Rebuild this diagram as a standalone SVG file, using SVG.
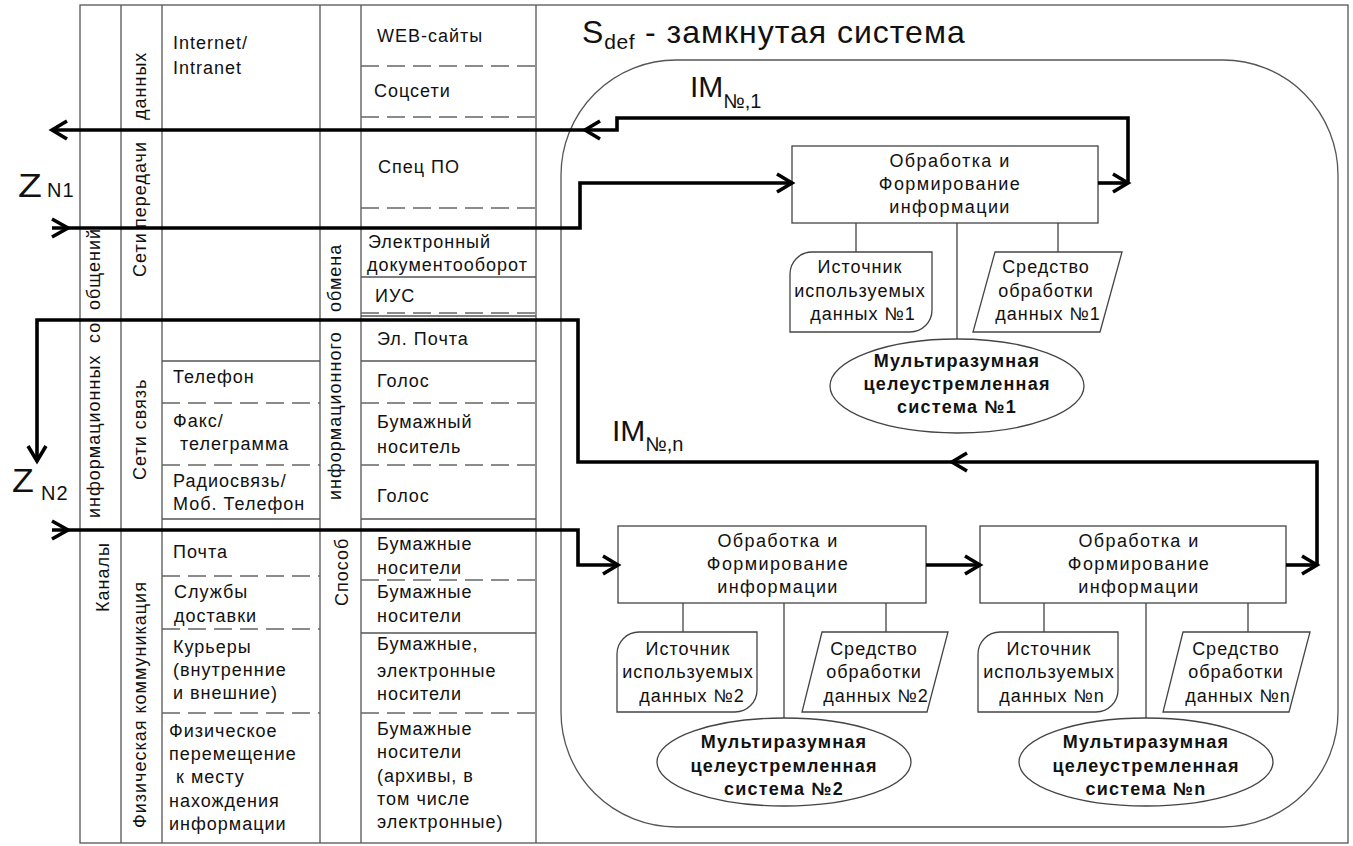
<svg xmlns="http://www.w3.org/2000/svg" width="1353" height="846" viewBox="0 0 1353 846">
  <style>
    text { font-family: "Liberation Sans", Arial, sans-serif; fill: #111; }
    .t { font-size: 18px; letter-spacing: 1px; }
    .c { font-size: 18px; letter-spacing: 1.4px; text-anchor: middle; }
    .b { font-size: 18px; letter-spacing: 1.2px; text-anchor: middle; font-weight: bold; }
    .grid { stroke: #555; stroke-width: 1.3; fill: none; }
    .dash { stroke: #666; stroke-width: 1.3; stroke-dasharray: 18 8; fill: none; }
    .shape { stroke: #444; stroke-width: 1.3; fill: #fff; }
    .link { stroke: #444; stroke-width: 1.3; fill: none; }
    .flow { stroke: #000; stroke-width: 3.6; fill: none; stroke-linejoin: miter; }
  </style>
  <defs>
    <marker id="head" markerUnits="userSpaceOnUse" markerWidth="24" markerHeight="24" refX="0" refY="0" viewBox="-18 -12 20 24" orient="auto" overflow="visible">
      <path d="M-15,-9 L0,0 L-15,9" fill="none" stroke="#000" stroke-width="3.6"/>
    </marker>
    <marker id="tail" markerUnits="userSpaceOnUse" markerWidth="24" markerHeight="24" refX="0" refY="0" viewBox="-2 -12 20 24" orient="auto" overflow="visible">
      <path d="M0,-9 L16,0 L0,9" fill="none" stroke="#000" stroke-width="3.6"/>
    </marker>
  </defs>

  <rect width="1353" height="846" fill="#fff"/>

  <!-- table of channels and exchange methods -->
  <g id="table">
    <rect class="grid" x="80" y="5" width="1268" height="838"/>
    <path class="grid" d="M121,5 V843 M162,5 V843 M320,5 V843 M361,5 V843 M536,5 V843"/>
    <!-- column: carriers -->
    <path class="grid" d="M162,361 H320 M162,519 H320"/>
    <path class="dash" d="M162,403 H320 M162,465 H320 M162,576 H320 M162,629 H320 M162,713 H320"/>
    <!-- column: exchange media -->
    <path class="grid" d="M361,277 H536 M361,316 H536 M361,361 H536 M361,519 H536 M361,633 H536"/>
    <path class="dash" d="M361,66 H536 M361,117 H536 M361,208 H536 M361,313 H536 M361,403 H536 M361,465 H536 M361,580 H536 M361,713 H536"/>

    <!-- vertical headings -->
    <text class="t" transform="rotate(-90)"><tspan x="-612" y="109">Каналы</tspan><tspan x="-518" y="100">информационных</tspan><tspan x="-343" y="100">со</tspan><tspan x="-310" y="100">общений</tspan></text>
    <text class="t" transform="rotate(-90)"><tspan x="-277" y="146">Сети</tspan><tspan x="-228" y="146">передачи</tspan><tspan x="-120" y="146">данных</tspan></text>
    <text class="t" transform="rotate(-90)" x="-480" y="146">Сети связь</text>
    <text class="t" transform="rotate(-90)" x="-828" y="146">Физическая коммуникация</text>
    <text class="t" transform="rotate(-90)"><tspan x="-606" y="348">Способ</tspan><tspan x="-500" y="341">информационного</tspan><tspan x="-312" y="341">обмена</tspan></text>

    <!-- carriers -->
    <text class="t"><tspan x="173" y="49">Internet/</tspan><tspan x="173" y="74">Intranet</tspan></text>
    <text class="t" x="173" y="383">Телефон</text>
    <text class="t"><tspan x="173" y="427">Факс/</tspan><tspan x="180" y="450">телеграмма</tspan></text>
    <text class="t"><tspan x="173" y="487">Радиосвязь/</tspan><tspan x="173" y="510">Моб. Телефон</tspan></text>
    <text class="t" x="173" y="558">Почта</text>
    <text class="t"><tspan x="174" y="598">Службы</tspan><tspan x="174" y="622">доставки</tspan></text>
    <text class="t"><tspan x="173" y="653">Курьеры</tspan><tspan x="173" y="676">(внутренние</tspan><tspan x="173" y="699">и внешние)</tspan></text>
    <text class="t"><tspan x="169" y="737">Физическое</tspan><tspan x="169" y="760">перемещение</tspan><tspan x="176" y="783">к месту</tspan><tspan x="169" y="807">нахождения</tspan><tspan x="169" y="830">информации</tspan></text>

    <!-- exchange media -->
    <text class="t" x="377" y="42">WEB-сайты</text>
    <text class="t" x="374" y="97">Соцсети</text>
    <text class="t" x="378" y="173">Спец ПО</text>
    <text class="t"><tspan x="368" y="248">Электронный</tspan><tspan x="367" y="271">документооборот</tspan></text>
    <text class="t" x="375" y="302">ИУС</text>
    <text class="t" x="377" y="345">Эл. Почта</text>
    <text class="t" x="377" y="387">Голос</text>
    <text class="t"><tspan x="377" y="428">Бумажный</tspan><tspan x="377" y="453">носитель</tspan></text>
    <text class="t" x="377" y="502">Голос</text>
    <text class="t"><tspan x="377" y="550">Бумажные</tspan><tspan x="377" y="574">носители</tspan></text>
    <text class="t"><tspan x="377" y="598">Бумажные</tspan><tspan x="377" y="622">носители</tspan></text>
    <text class="t"><tspan x="377" y="650">Бумажные,</tspan><tspan x="377" y="677">электронные</tspan><tspan x="377" y="700">носители</tspan></text>
    <text class="t"><tspan x="377" y="735">Бумажные</tspan><tspan x="377" y="758">носители</tspan><tspan x="377" y="782">(архивы, в</tspan><tspan x="377" y="805">том числе</tspan><tspan x="377" y="828">электронные)</tspan></text>
  </g>

  <!-- closed system boundary -->
  <g id="system">
    <rect class="grid" x="561" y="60" width="777" height="767" rx="115" ry="115"/>
    <text x="582" y="43" font-size="32" letter-spacing="1">S<tspan font-size="21" dy="6" letter-spacing="0.5">def</tspan><tspan dy="-6"> - замкнутая система</tspan></text>
  </g>

  <!-- external links -->
  <g id="z-n1">
    <text x="0" y="0" font-size="34" transform="translate(18,197) scale(1.15,1)">Z</text>
    <text x="47" y="197" font-size="20" letter-spacing="1">N1</text>
  </g>
  <g id="z-n2">
    <text x="0" y="0" font-size="34" transform="translate(12,492) scale(1.05,1)">Z</text>
    <text x="41" y="500" font-size="20" letter-spacing="1">N2</text>
  </g>
  <g id="im-1">
    <text x="690" y="97" font-size="30">IM<tspan font-size="20" dy="11">№,1</tspan></text>
  </g>
  <g id="im-n">
    <text x="612" y="441" font-size="30">IM<tspan font-size="20" dy="10">№,n</tspan></text>
  </g>

  <!-- system 1 -->
  <g id="proc-1">
    <rect class="shape" x="792" y="146" width="306" height="77"/>
    <text class="c"><tspan x="950" y="167">Обработка и</tspan><tspan x="950" y="190">Формирование</tspan><tspan x="950" y="213">информации</tspan></text>
  </g>
  <g id="src-1">
    <path class="shape" d="M812,252 H932 V310 A22,22 0 0 1 910,332 H790 V274 A22,22 0 0 1 812,252 Z"/>
    <text class="t" text-anchor="middle"><tspan x="860" y="273">Источник</tspan><tspan x="860" y="297">используемых</tspan><tspan x="863" y="320">данных №1</tspan></text>
  </g>
  <g id="tool-1">
    <path class="shape" d="M995,252 H1122 L1100,332 H973 Z"/>
    <text class="t" text-anchor="middle"><tspan x="1046" y="273">Средство</tspan><tspan x="1046" y="297">обработки</tspan><tspan x="1048" y="320">данных №1</tspan></text>
  </g>
  <g id="mind-1">
    <ellipse class="shape" cx="957" cy="386" rx="127" ry="47"/>
    <text class="b"><tspan x="957" y="367">Мультиразумная</tspan><tspan x="957" y="390">целеустремленная</tspan><tspan x="957" y="413">система №1</tspan></text>
  </g>

  <!-- system 2 -->
  <g id="proc-2">
    <rect class="shape" x="618" y="526" width="308" height="77"/>
    <text class="c"><tspan x="778" y="547">Обработка и</tspan><tspan x="778" y="570">Формирование</tspan><tspan x="778" y="593">информации</tspan></text>
  </g>
  <g id="src-2">
    <path class="shape" d="M639,632 H757 V690 A22,22 0 0 1 735,712 H617 V654 A22,22 0 0 1 639,632 Z"/>
    <text class="t" text-anchor="middle"><tspan x="688" y="655">Источник</tspan><tspan x="688" y="678">используемых</tspan><tspan x="692" y="702">данных №2</tspan></text>
  </g>
  <g id="tool-2">
    <path class="shape" d="M822,632 H948 L927,712 H802 Z"/>
    <text class="t" text-anchor="middle"><tspan x="874" y="655">Средство</tspan><tspan x="874" y="678">обработки</tspan><tspan x="876" y="702">данных №2</tspan></text>
  </g>
  <g id="mind-2">
    <ellipse class="shape" cx="784" cy="762" rx="127" ry="44"/>
    <text class="b"><tspan x="784" y="748">Мультиразумная</tspan><tspan x="784" y="772">целеустремленная</tspan><tspan x="784" y="795">система №2</tspan></text>
  </g>

  <!-- system n -->
  <g id="proc-n">
    <rect class="shape" x="980" y="526" width="306" height="77"/>
    <text class="c"><tspan x="1139" y="547">Обработка и</tspan><tspan x="1139" y="570">Формирование</tspan><tspan x="1139" y="593">информации</tspan></text>
  </g>
  <g id="src-n">
    <path class="shape" d="M1000,632 H1118 V690 A22,22 0 0 1 1096,712 H978 V654 A22,22 0 0 1 1000,632 Z"/>
    <text class="t" text-anchor="middle"><tspan x="1049" y="655">Источник</tspan><tspan x="1049" y="678">используемых</tspan><tspan x="1052" y="702">данных №n</tspan></text>
  </g>
  <g id="tool-n">
    <path class="shape" d="M1183,632 H1310 L1289,712 H1163 Z"/>
    <text class="t" text-anchor="middle"><tspan x="1236" y="655">Средство</tspan><tspan x="1236" y="678">обработки</tspan><tspan x="1238" y="702">данных №n</tspan></text>
  </g>
  <g id="mind-n">
    <ellipse class="shape" cx="1146" cy="762" rx="127" ry="44"/>
    <text class="b"><tspan x="1146" y="748">Мультиразумная</tspan><tspan x="1146" y="772">целеустремленная</tspan><tspan x="1146" y="795">система №n</tspan></text>
  </g>

  <!-- connectors -->
  <g id="connectors">
    <!-- thin ties between processing blocks and their parts -->
    <path class="link" d="M856,223 V252 M957,223 V339 M1058,223 V252"/>
    <path class="link" d="M683,603 V632 M784,603 V718 M886,603 V632"/>
    <path class="link" d="M1044,603 V632 M1146,603 V718 M1248,603 V632"/>

    <!-- IM №,1 : output of system 1 leaving to Z N1 -->
    <path class="flow" d="M1098,183 H1128" marker-end="url(#head)"/>
    <path class="flow" d="M1128,183 V118 H617 V130 H585" marker-end="url(#head)"/>
    <path class="flow" d="M585,130 H52" marker-end="url(#head)"/>
    <!-- Z N1 input into system 1 -->
    <path class="flow" d="M52,228 H580 V183 H792" marker-start="url(#tail)" marker-end="url(#head)"/>

    <!-- IM №,n : output of system n leaving to Z N2 -->
    <path class="flow" d="M1286,565 H1317" marker-end="url(#head)"/>
    <path class="flow" d="M1317,565 V462 H952" marker-end="url(#head)"/>
    <path class="flow" d="M952,462 H578 V320 H37 V461" marker-end="url(#head)"/>
    <!-- Z N2 input into system 2, then on to system n -->
    <path class="flow" d="M52,530 H578 V565 H618" marker-start="url(#tail)" marker-end="url(#head)"/>
    <path class="flow" d="M926,565 H980" marker-end="url(#head)"/>
  </g>
</svg>
